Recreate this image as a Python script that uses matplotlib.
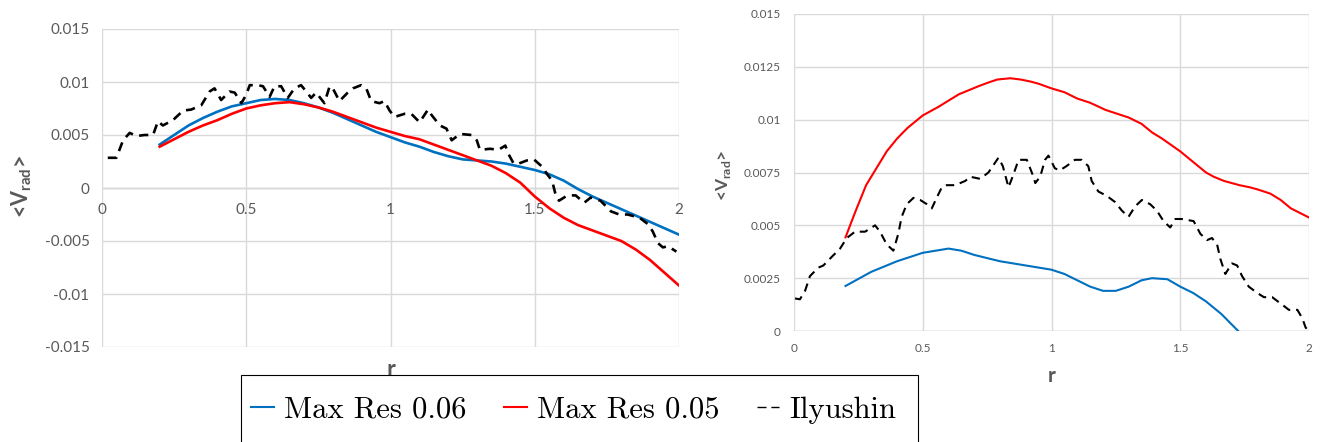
import matplotlib
matplotlib.use('Agg')
import matplotlib.pyplot as plt
from matplotlib.lines import Line2D
from matplotlib.patches import Rectangle
from matplotlib.ticker import FuncFormatter

plt.rcParams['font.family'] = ['Lato', 'DejaVu Sans']
plt.rcParams['mathtext.fontset'] = 'custom'
plt.rcParams['mathtext.bf'] = 'Lato:bold'
plt.rcParams['mathtext.rm'] = 'Lato'

# left panel: radial velocity profiles
left_r_06 = [0.2, 0.25, 0.3, 0.35, 0.4, 0.45, 0.5, 0.55, 0.6, 0.65, 0.7, 0.75, 0.8,
             0.85, 0.9, 0.95, 1.0, 1.05, 1.1, 1.15, 1.2, 1.25, 1.3, 1.35, 1.4, 1.45,
             1.5, 1.55, 1.6, 1.65, 1.7, 1.8, 1.9, 2.0]
left_v_06 = [0.0041, 0.0050, 0.0059, 0.0066, 0.0072, 0.0077, 0.0080, 0.0083, 0.0084,
             0.0083, 0.0080, 0.0076, 0.0071, 0.0065, 0.0059, 0.0053, 0.0048, 0.0043,
             0.0039, 0.0034, 0.0030, 0.0027, 0.0026, 0.0025, 0.0023, 0.0020, 0.0017,
             0.0013, 0.0007, -0.0001, -0.0008, -0.0020, -0.0032, -0.0044]

left_r_05 = [0.2, 0.25, 0.3, 0.35, 0.4, 0.45, 0.5, 0.55, 0.6, 0.65, 0.7, 0.75, 0.8,
             0.85, 0.9, 0.95, 1.0, 1.05, 1.1, 1.15, 1.2, 1.25, 1.3, 1.35, 1.4, 1.45,
             1.5, 1.55, 1.6, 1.65, 1.7, 1.75, 1.8, 1.85, 1.9, 1.95, 2.0]
left_v_05 = [0.0039, 0.0046, 0.0053, 0.0059, 0.0064, 0.0070, 0.0075, 0.0078, 0.0080,
             0.0081, 0.0079, 0.0076, 0.0072, 0.0067, 0.0062, 0.0057, 0.0053, 0.0049,
             0.0046, 0.0041, 0.0036, 0.0031, 0.0026, 0.0021, 0.0014, 0.0005, -0.0008,
             -0.0019, -0.0028, -0.0035, -0.0040, -0.0045, -0.0050, -0.0058, -0.0068,
             -0.0080, -0.0092]

left_r_ily = [0.02, 0.05, 0.073, 0.096, 0.119, 0.148, 0.177, 0.194, 0.211, 0.246,
              0.281, 0.309, 0.344, 0.373, 0.39, 0.413, 0.442, 0.46, 0.483, 0.5,
              0.512, 0.54, 0.558, 0.581, 0.598, 0.621, 0.644, 0.667, 0.69, 0.708,
              0.725, 0.742, 0.771, 0.789, 0.8, 0.823, 0.852, 0.87, 0.898, 0.916,
              0.933, 0.962, 0.979, 0.997, 1.014, 1.049, 1.072, 1.101, 1.13, 1.142,
              1.171, 1.194, 1.212, 1.241, 1.281, 1.299, 1.31, 1.345, 1.374, 1.398,
              1.409, 1.427, 1.444, 1.473, 1.497, 1.526, 1.543, 1.56, 1.572, 1.584,
              1.613, 1.642, 1.671, 1.694, 1.728, 1.764, 1.793, 1.822, 1.863, 1.892,
              1.909, 1.927, 1.944, 1.962, 1.991]
left_v_ily = [0.00285, 0.00285, 0.0045, 0.0052, 0.0049, 0.0050, 0.0050, 0.0063,
              0.0059, 0.0064, 0.0073, 0.0074, 0.0078, 0.0091, 0.0094, 0.0083,
              0.0091, 0.0090, 0.0080, 0.0088, 0.0097, 0.0097, 0.0096, 0.0086,
              0.0096, 0.0096, 0.0085, 0.0094, 0.0097, 0.0091, 0.0085, 0.0090,
              0.0080, 0.0096, 0.0094, 0.0082, 0.0090, 0.0094, 0.0097, 0.0094,
              0.0082, 0.0080, 0.0082, 0.0073, 0.0067, 0.0070, 0.0070, 0.0062,
              0.0074, 0.0069, 0.0059, 0.0056, 0.0045, 0.0051, 0.0050, 0.0045,
              0.0036, 0.0037, 0.0036, 0.0040, 0.0032, 0.0023, 0.0023, 0.0026,
              0.0027, 0.0020, 0.0013, 0.0007, -0.0006, -0.0012, -0.0007, -0.0007,
              -0.0014, -0.0009, -0.0012, -0.0022, -0.0025, -0.0025, -0.0028,
              -0.0034, -0.0041, -0.0052, -0.0056, -0.0055, -0.0060]

# right panel
right_r_06 = [0.2, 0.3, 0.4, 0.5, 0.55, 0.6, 0.65, 0.7, 0.75, 0.8, 0.85, 0.9, 0.95,
              1.0, 1.05, 1.1, 1.15, 1.2, 1.25, 1.3, 1.35, 1.39, 1.45, 1.5, 1.55,
              1.6, 1.66, 1.725]
right_v_06 = [0.00213, 0.0028, 0.0033, 0.0037, 0.0038, 0.0039, 0.0038, 0.0036,
              0.00345, 0.0033, 0.0032, 0.0031, 0.0030, 0.0029, 0.0027, 0.0024,
              0.0021, 0.0019, 0.0019, 0.0021, 0.0024, 0.0025, 0.00245, 0.0021,
              0.0018, 0.0014, 0.0008, 0.0]

right_r_05 = [0.2, 0.24, 0.28, 0.32, 0.36, 0.4, 0.44, 0.47, 0.5, 0.56, 0.6, 0.64,
              0.68, 0.72, 0.76, 0.79, 0.84, 0.88, 0.92, 0.95, 1.0, 1.05, 1.1, 1.15,
              1.21, 1.25, 1.3, 1.35, 1.39, 1.43, 1.5, 1.55, 1.6, 1.63, 1.67, 1.7,
              1.73, 1.77, 1.8, 1.85, 1.89, 1.93, 2.0]
right_v_05 = [0.00443, 0.0057, 0.0069, 0.0077, 0.0085, 0.0091, 0.0096, 0.0099,
              0.0102, 0.0106, 0.0109, 0.0112, 0.0114, 0.0116, 0.01178, 0.0119,
              0.01196, 0.0119, 0.0118, 0.0117, 0.01148, 0.0113, 0.0110, 0.0108,
              0.01046, 0.0103, 0.0101, 0.0098, 0.0094, 0.0091, 0.0085, 0.0080,
              0.0075, 0.0073, 0.0071, 0.0070, 0.0069, 0.0068, 0.0067, 0.0065,
              0.0062, 0.0058, 0.00537]

right_r_ily = [0.004, 0.023, 0.043, 0.062, 0.095, 0.114, 0.146, 0.179, 0.205, 0.237,
               0.276, 0.315, 0.334, 0.36, 0.386, 0.405, 0.418, 0.438, 0.464, 0.49,
               0.516, 0.535, 0.554, 0.574, 0.593, 0.626, 0.665, 0.684, 0.723, 0.755,
               0.794, 0.811, 0.833, 0.852, 0.872, 0.904, 0.93, 0.937, 0.956, 0.975,
               0.988, 1.013, 1.032, 1.058, 1.091, 1.117, 1.143, 1.156, 1.182, 1.214,
               1.247, 1.273, 1.299, 1.325, 1.351, 1.383, 1.409, 1.435, 1.461, 1.481,
               1.506, 1.552, 1.578, 1.604, 1.623, 1.643, 1.656, 1.675, 1.701, 1.721,
               1.74, 1.766, 1.799, 1.825, 1.857, 1.89, 1.922, 1.955, 1.974, 1.987, 2.0]
right_v_ily = [0.00154, 0.0015, 0.0019, 0.0026, 0.0030, 0.0031, 0.0035, 0.0039,
               0.0044, 0.0047, 0.0047, 0.0050, 0.0047, 0.0041, 0.0038, 0.0046,
               0.0054, 0.0060, 0.0063, 0.0062, 0.0060, 0.0058, 0.0063, 0.0068,
               0.0069, 0.0069, 0.0071, 0.0073, 0.0072, 0.0075, 0.0082, 0.0078,
               0.0068, 0.0074, 0.0081, 0.0081, 0.0073, 0.0070, 0.0073, 0.0081,
               0.0083, 0.0077, 0.0076, 0.0078, 0.0081, 0.0081, 0.0078, 0.0071,
               0.0066, 0.0064, 0.0061, 0.0057, 0.0054, 0.0059, 0.0062, 0.0060,
               0.0057, 0.0052, 0.0049, 0.0053, 0.0053, 0.0052, 0.0046, 0.0043,
               0.0044, 0.0041, 0.0034, 0.0027, 0.0032, 0.0031, 0.0026, 0.0021,
               0.0018, 0.0016, 0.0016, 0.0013, 0.0010, 0.0010, 0.0006, 0.00016, 0.0]

x_ticks = [0, 0.5, 1, 1.5, 2]
left_y_ticks = [-0.015, -0.01, -0.005, 0, 0.005, 0.01, 0.015]
right_y_ticks = [0, 0.0025, 0.005, 0.0075, 0.01, 0.0125, 0.015]

labels = ['Max Res 0.06', 'Max Res 0.05', 'Ilyushin']
colors = ['#0070C0', '#FF0000', 'black']

grey = '#595959'
grid_col = '#d9d9d9'
fmt = FuncFormatter(lambda v, p: '%g' % v)

W, H = 1322, 442
fig = plt.figure(figsize=(W / 100, H / 100), dpi=100)
axL = fig.add_axes([102 / W, 1 - 347 / H, 577 / W, 318 / H])
axR = fig.add_axes([794 / W, 1 - 331 / H, 515 / W, 317 / H])


def style_axes(ax, yticks, tick_size, xpad, ypad):
    ax.set_xlim(0, 2)
    ax.set_ylim(yticks[0], yticks[-1])
    ax.set_xticks(x_ticks)
    ax.set_yticks(yticks)
    ax.xaxis.set_major_formatter(fmt)
    ax.yaxis.set_major_formatter(fmt)
    ax.grid(True, color=grid_col, lw=1)
    ax.set_axisbelow(True)
    for s in ax.spines.values():
        s.set_visible(False)
    ax.tick_params(length=0, colors=grey, labelsize=tick_size)
    ax.tick_params(axis='x', pad=xpad)
    ax.tick_params(axis='y', pad=ypad)


style_axes(axL, left_y_ticks, 11, 11, 9)
style_axes(axR, right_y_ticks, 8.5, 9, 9.5)

# x axis of the left panel crosses at zero
axL.spines['bottom'].set_position(('data', 0))
axL.axhline(0, color='#bfbfbf', lw=1, zorder=0.5)
axR.axhline(0, color='#bfbfbf', lw=1, zorder=0.5)

axL.plot(left_r_06, left_v_06, color=colors[0], lw=1.9)
axL.plot(left_r_05, left_v_05, color=colors[1], lw=1.9)
axL.plot(left_r_ily, left_v_ily, color=colors[2], lw=1.9, dashes=(3.5, 2.5))

axR.plot(right_r_06, right_v_06, color=colors[0], lw=1.5)
axR.plot(right_r_05, right_v_05, color=colors[1], lw=1.5)
axR.plot(right_r_ily, right_v_ily, color=colors[2], lw=1.5, dashes=(4, 2.8),
         clip_on=False)

ylab = '<V$_{\\mathbf{rad}}$>'
axL.set_ylabel(ylab, fontsize=15.5, fontweight='bold', color=grey)
axL.yaxis.set_label_coords(-0.118, 0.503)
axR.set_ylabel(ylab, fontsize=12.5, fontweight='bold', color=grey)
axR.yaxis.set_label_coords(-0.118, 0.492)

axL.set_xlabel('r', fontsize=17, fontweight='bold', color=grey)
axL.xaxis.label.set_va('baseline')
axL.xaxis.set_label_coords(0.5, -0.094)
axR.set_xlabel('r', fontsize=15, fontweight='bold', color=grey)
axR.xaxis.label.set_va('baseline')
axR.xaxis.set_label_coords(0.5, -0.161)

# legend box running off the bottom edge
box = Rectangle((241 / W, -0.1), (918 - 241) / W, 1 - 375 / H + 0.1,
                transform=fig.transFigure, facecolor='white', edgecolor='black',
                lw=0.8, zorder=4)
fig.add_artist(box)

handles = [Line2D([], [], color=colors[0], lw=1.5),
           Line2D([], [], color=colors[1], lw=1.5),
           Line2D([], [], color=colors[2], lw=1.0, dashes=(6.5, 3.5))]
leg = fig.legend(handles, labels, loc='center left',
                 bbox_to_anchor=(251 / W, 1 - 410 / H), ncol=3,
                 prop={'family': 'cmr10', 'size': 22}, frameon=False,
                 handlelength=0.75, handletextpad=0.33, columnspacing=1.22,
                 borderpad=0, borderaxespad=0)
leg.set_zorder(5)

fig.savefig('out.png', dpi=100)
